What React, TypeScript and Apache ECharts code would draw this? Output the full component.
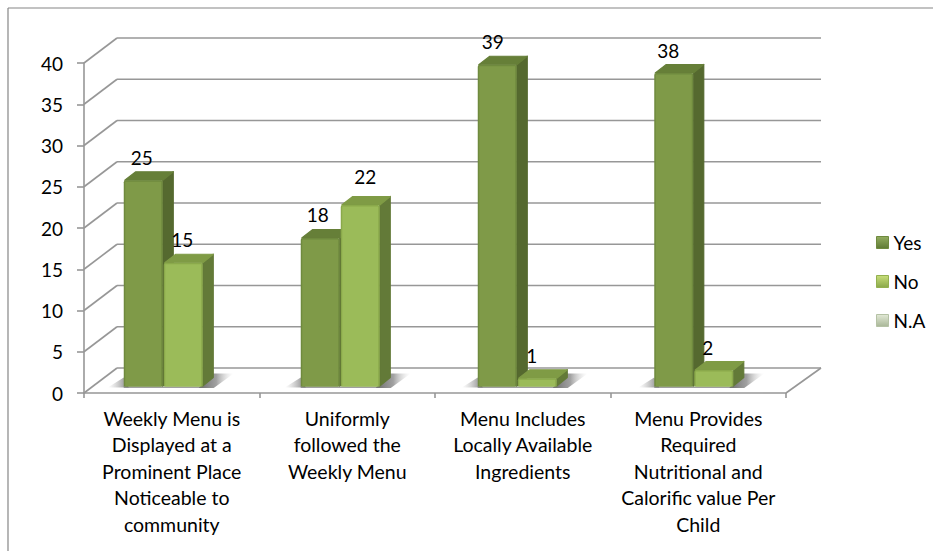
import React, { useEffect, useRef } from "react";
import * as echarts from "echarts";

const categories = [
  "Weekly Menu is\nDisplayed at a\nProminent Place\nNoticeable to\ncommunity",
  "Uniformly\nfollowed the\nWeekly Menu",
  "Menu Includes\nLocally Available\nIngredients",
  "Menu Provides\nRequired\nNutritional and\nCalorific value Per\nChild",
];
const yesValues = [25, 18, 39, 38];
const noValues = [15, 22, 1, 2];
const naValues: number[] = [];
const axisTicks = [0, 5, 10, 15, 20, 25, 30, 35, 40];

const FONT = "Lato";
const FONT_SIZE = 19;
const GRID = "#979797";
const DEPTH_X = 33;
const DEPTH_Y = 25;
const BAR_W = 39;
const BAR_DX = 11;
const BAR_DY = 9;
const BASE_LIFT = 6.5;

const yesColors = { front: "#7f9a48", edge: "#6f8a3e", top: "#667f38", side: "#55692f" };
const noColors = { front: "#9bbb59", edge: "#8aa94b", top: "#7f9b45", side: "#637a38" };

// the 3-D bars drift slightly against the category ticks in the reference
const groupShift = [0, 1.5, 3, 4];
// hand placed label nudges of the reference, per series and category
const yesNudge = [[-1.5, 1], [-2.5, 0], [-4.5, 1], [-5.5, 1]];
const noNudge = [[-1, 1], [5, -5], [-5.5, 1], [-6, 1]];

function barSeries(name: string, values: number[], slot: number, colors: typeof yesColors, nudge: number[][]) {
  return {
    name,
    type: "custom",
    coordinateSystem: "cartesian2d",
    xAxisIndex: 0,
    yAxisIndex: 0,
    z: 5,
    itemStyle: { color: colors.front },
    data: values.map((v, i) => [i, v]),
    renderItem: (_p: any, api: any) => {
      const cat = api.value(0);
      const val = api.value(1);
      const [cx, yTop] = api.coord([cat, val]);
      const [, yBase] = api.coord([cat, 0]);
      const x = cx - 48 + groupShift[cat] + slot * 40;
      const t = yTop - BASE_LIFT;
      const b = yBase - BASE_LIFT;
      const w = BAR_W;
      const [nx, ny] = nudge[cat] || [0, 0];
      const round = (c: string) => ({ fill: c, stroke: c, lineWidth: 1.2, lineJoin: "round" });
      return {
        type: "group",
        children: [
          {
            type: "polygon",
            shape: { points: [[x + w, t], [x + w + BAR_DX - 0.5, t - BAR_DY + 0.5], [x + w + BAR_DX - 0.5, b - BAR_DY], [x + w, b - 0.5]] },
            style: round(colors.side),
          },
          {
            type: "polygon",
            shape: { points: [[x + 1, t], [x + BAR_DX + 1, t - BAR_DY + 0.5], [x + w + BAR_DX - 0.5, t - BAR_DY + 0.5], [x + w, t]] },
            style: round(colors.top),
          },
          { type: "rect", shape: { x, y: t, width: w, height: b - t, r: [2, 2, 0, 0] }, style: { fill: colors.edge } },
          { type: "rect", shape: { x: x + 1.5, y: t + 1.5, width: w - 3, height: b - t - 1.5 }, style: { fill: colors.front } },
          {
            type: "text",
            style: {
              text: String(val),
              x: x + w / 2 + nx,
              y: t - 24 + ny,
              align: "center",
              verticalAlign: "middle",
              font: `${FONT_SIZE}px ${FONT}`,
              fill: "#000",
            },
          },
        ],
      };
    },
  };
}

function shadowSeries(values: number[]) {
  return {
    type: "custom",
    coordinateSystem: "cartesian2d",
    xAxisIndex: 0,
    yAxisIndex: 0,
    z: 3,
    silent: true,
    data: values.map((_, i) => [i, 0]),
    renderItem: (_p: any, api: any) => {
      const cat = api.value(0);
      const [cx, yBase] = api.coord([cat, 0]);
      const l = cx - 48 + groupShift[cat];
      const b = yBase - BASE_LIFT;
      return {
        type: "group",
        children: [
          {
            type: "polygon",
            shape: { points: [[l - 16, b + 1], [l, b - 9], [l + 5, b + 1]] },
            style: {
              fill: new echarts.graphic.LinearGradient(0, 0, 1, 0, [
                { offset: 0, color: "rgba(170,170,170,0)" },
                { offset: 1, color: "rgba(100,100,100,0.85)" },
              ]),
            },
          },
          {
            type: "polygon",
            shape: { points: [[l + 75, b + 1.5], [l + 88, b - 13], [l + 110, b - 13], [l + 90, b + 1.5]] },
            style: {
              fill: new echarts.graphic.LinearGradient(0, 0, 1, 0, [
                { offset: 0, color: "rgba(90,90,90,0.9)" },
                { offset: 0.5, color: "rgba(120,120,120,0.7)" },
                { offset: 1, color: "rgba(210,210,210,0)" },
              ]),
            },
          },
          { type: "rect", shape: { x: l, y: b, width: 79, height: 1.5 }, style: { fill: "rgba(120,120,120,0.7)" } },
        ],
      };
    },
  };
}

function wallSeries() {
  return {
    type: "custom",
    coordinateSystem: "cartesian2d",
    xAxisIndex: 0,
    yAxisIndex: 0,
    z: 1,
    silent: true,
    data: axisTicks.map((t) => [0, t]),
    renderItem: (p: any, api: any) => {
      const tick = api.value(1);
      const [, y] = api.coord([0, tick]);
      const left = (p.coordSys as any).x;
      const right = left + (p.coordSys as any).width;
      const style = { stroke: GRID, lineWidth: 1.6, fill: "none" };
      const children: any[] = [
        { type: "line", shape: { x1: left, y1: y, x2: left + DEPTH_X, y2: y - DEPTH_Y }, style },
        { type: "line", shape: { x1: left + DEPTH_X, y1: y - DEPTH_Y, x2: right + DEPTH_X + 2, y2: y - DEPTH_Y }, style },
      ];
      if (tick === 0) {
        children.push({ type: "line", shape: { x1: right, y1: y, x2: right + DEPTH_X + 2, y2: y - DEPTH_Y }, style });
      }
      return { type: "group", children };
    },
  };
}

export default function App() {
  const ref = useRef<HTMLDivElement>(null);
  useEffect(() => {
    const chart = echarts.init(ref.current!, null, { renderer: "svg" });
    const legendIcon = (top: string, bottom: string, border: string) => ({
      color: new echarts.graphic.LinearGradient(0, 0, 0, 1, [
        { offset: 0, color: top },
        { offset: 1, color: bottom },
      ]),
      borderColor: border,
      borderWidth: 1,
    });
    chart.setOption({
      animation: false,
      backgroundColor: "#fff",
      textStyle: { fontFamily: FONT },
      grid: { left: 84, top: 63, width: 702, height: 330, containLabel: false },
      xAxis: {
        type: "category",
        data: categories,
        boundaryGap: true,
        axisLine: { lineStyle: { color: GRID, width: 1.6 } },
        axisTick: { show: true, length: 5, lineStyle: { color: GRID, width: 1.6 } },
        axisLabel: { interval: 0, fontFamily: FONT, fontSize: 19.5, lineHeight: 26.5, color: "#000", margin: 12 },
      },
      yAxis: {
        type: "value",
        min: 0,
        max: 40,
        interval: 5,
        axisLine: { show: true, lineStyle: { color: GRID, width: 1.6 } },
        axisTick: { show: true, length: 7, lineStyle: { color: GRID, width: 1.6 } },
        axisLabel: { fontFamily: FONT, fontSize: FONT_SIZE, color: "#000", margin: 21 },
        splitLine: { show: false },
      },
      legend: {
        orient: "vertical",
        left: 871,
        top: 228,
        itemWidth: 12,
        itemHeight: 12,
        itemGap: 20,
        icon: "rect",
        textStyle: { fontFamily: FONT, fontSize: FONT_SIZE, color: "#000" },
        data: [
          { name: "Yes", itemStyle: legendIcon("#93ad60", "#5f7a35", "#6f8a3e") },
          { name: "No", itemStyle: legendIcon("#c8de7a", "#8aa84a", "#93b04f") },
          { name: "N.A", itemStyle: legendIcon("#e2e9d6", "#a9b798", "#b5c2a5") },
        ],
      },
      graphic: [
        { type: "line", shape: { x1: 8, y1: 8, x2: 933, y2: 8 }, style: { stroke: "#868686", lineWidth: 1.2 } },
        { type: "line", shape: { x1: 8, y1: 8, x2: 8, y2: 551 }, style: { stroke: "#868686", lineWidth: 1.2 } },
      ],
      series: [
        wallSeries(),
        shadowSeries(yesValues),
        barSeries("Yes", yesValues, 0, yesColors, yesNudge),
        barSeries("No", noValues, 1, noColors, noNudge),
        barSeries("N.A", naValues, 2, noColors, noNudge),
      ],
    });
    return () => chart.dispose();
  }, []);
  return <div ref={ref} style={{ position: "absolute", left: 0, top: 0, width: 933, height: 551 }} />;
}
